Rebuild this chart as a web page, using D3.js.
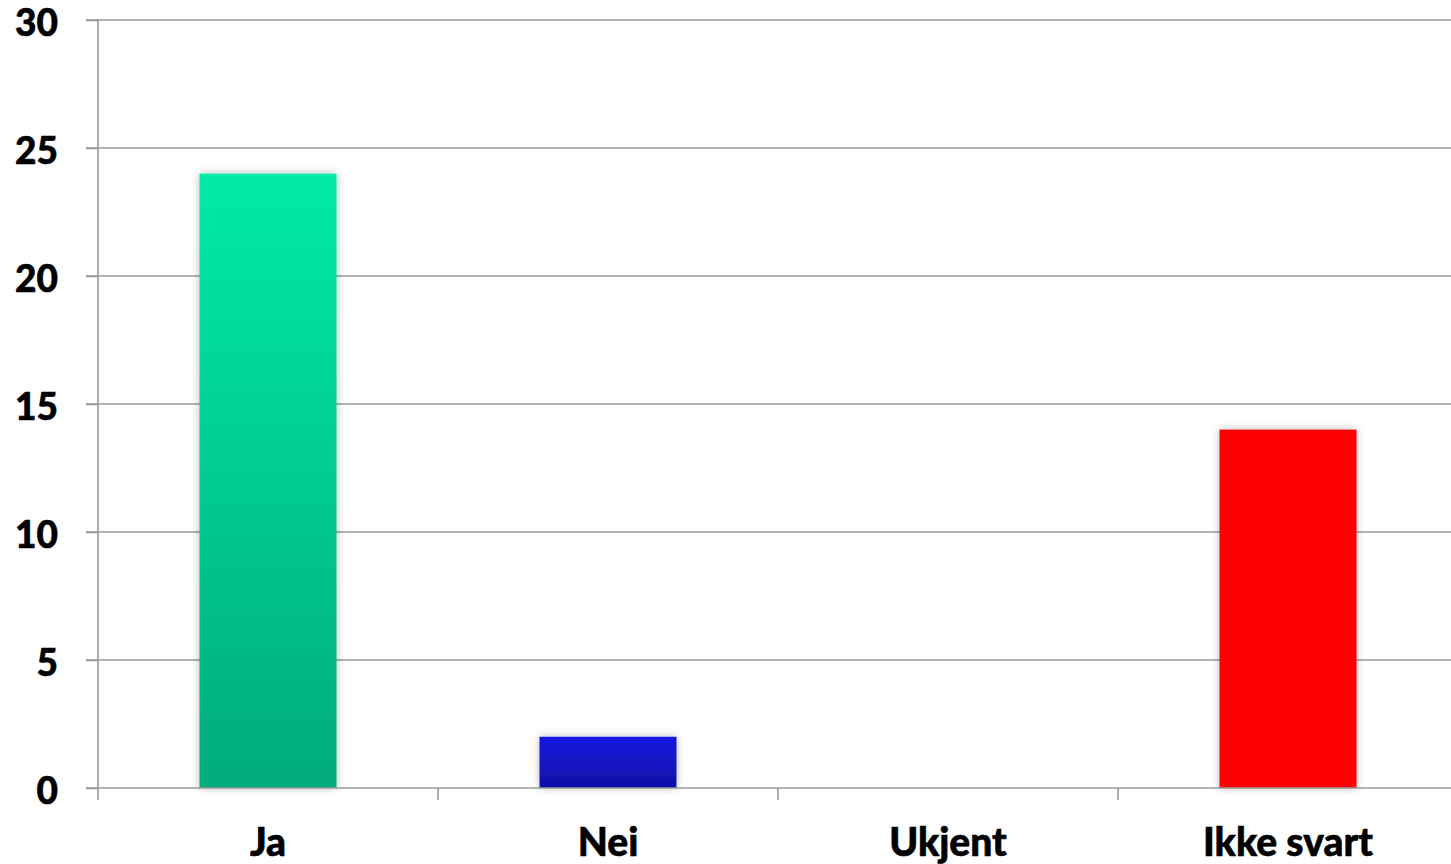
<!DOCTYPE html>
<html>
<head>
<meta charset="utf-8">
<script src="https://cdn.jsdelivr.net/npm/d3@7"></script>
<style>
  html, body { margin: 0; padding: 0; background: #fff; }
  svg { display: block; }
  text { font-family: Lato, "Open Sans", sans-serif; font-weight: bold; fill: #000; }
</style>
</head>
<body>
<svg id="chart" width="1451" height="864"></svg>
<script>
// Answers per category
const categories = ["Ja", "Nei", "Ukjent", "Ikke svart"];
const counts = [24, 2, 0, 14];
const yTicks = [0, 5, 10, 15, 20, 25, 30];
const barTop = ["#00EAA8", "#1818E2", "#FF0000", "#FF0000"];
const barBottom = ["#00AB7D", "#1010A6", "#FF0000", "#FF0000"];

const svg = d3.select("#chart");
const plotLeft = 98, plotRight = 1458, plotTop = 20, plotBottom = 788;

const x = d3.scaleBand().domain(categories).range([plotLeft, plotRight]).padding(0);
const y = d3.scaleLinear().domain([0, 30]).range([plotBottom, plotTop]);
const barW = x.bandwidth() * 0.403;

const defs = svg.append("defs");
const shadow = defs.append("filter").attr("id", "shadow")
  .attr("x", "-20%").attr("y", "-20%").attr("width", "140%").attr("height", "140%");
shadow.append("feDropShadow").attr("dx", 0).attr("dy", 0)
  .attr("stdDeviation", 4).attr("flood-color", "#000").attr("flood-opacity", 0.28);

categories.forEach((c, i) => {
  const g = defs.append("linearGradient").attr("id", "grad" + i)
    .attr("x1", 0).attr("y1", 0).attr("x2", 0).attr("y2", 1);
  g.append("stop").attr("offset", "0%").attr("stop-color", barTop[i]);
  g.append("stop").attr("offset", "100%").attr("stop-color", barBottom[i]);
});

// horizontal gridlines
svg.append("g").selectAll("line").data(yTicks.filter(d => d > 0)).join("line")
  .attr("x1", plotLeft - 12).attr("x2", plotRight)
  .attr("y1", d => y(d)).attr("y2", d => y(d))
  .attr("stroke", "#9a9a9a").attr("stroke-width", 1.6);

// bars
svg.append("g").selectAll("rect").data(categories.map((c, i) => ({c, v: counts[i], i})).filter(d => d.v > 0))
  .join("rect")
  .attr("x", d => x(d.c) + (x.bandwidth() - barW) / 2)
  .attr("y", d => y(d.v))
  .attr("width", barW)
  .attr("height", d => y(0) - y(d.v))
  .attr("fill", d => `url(#grad${d.i})`)
  .attr("filter", "url(#shadow)");

const labelStyle = sel => sel
  .style("font-family", "Lato, 'Open Sans', sans-serif").style("font-weight", "900")
  .attr("fill", "#000").attr("stroke", "#000").attr("stroke-width", 0.6);

// y axis
const yAxis = svg.append("g").attr("transform", `translate(${plotLeft},0)`)
  .call(d3.axisLeft(y).tickValues(yTicks).tickSize(12).tickPadding(28).tickFormat(d3.format("d")));
yAxis.select(".domain").attr("stroke", "#9a9a9a").attr("stroke-width", 1.6)
  .attr("d", `M0,${plotTop}V${plotBottom + 12}`);
yAxis.selectAll(".tick line").attr("stroke", "#9a9a9a").attr("stroke-width", 1.6);
yAxis.selectAll(".tick text").attr("font-size", 37).attr("dy", "0.41em").call(labelStyle);

// x axis
const xAxis = svg.append("g").attr("transform", `translate(0,${plotBottom})`)
  .call(d3.axisBottom(x).tickSize(0).tickPadding(68));
xAxis.select(".domain").attr("stroke", "#9a9a9a").attr("stroke-width", 1.6)
  .attr("d", `M${plotLeft - 12},0H${plotRight}`);
xAxis.selectAll(".tick text").attr("font-size", 39).attr("dy", "0").call(labelStyle);
// category boundary ticks
svg.append("g").selectAll("line").data(categories.slice(1)).join("line")
  .attr("x1", d => x(d)).attr("x2", d => x(d))
  .attr("y1", plotBottom).attr("y2", plotBottom + 12)
  .attr("stroke", "#9a9a9a").attr("stroke-width", 1.6);
</script>
</body>
</html>
